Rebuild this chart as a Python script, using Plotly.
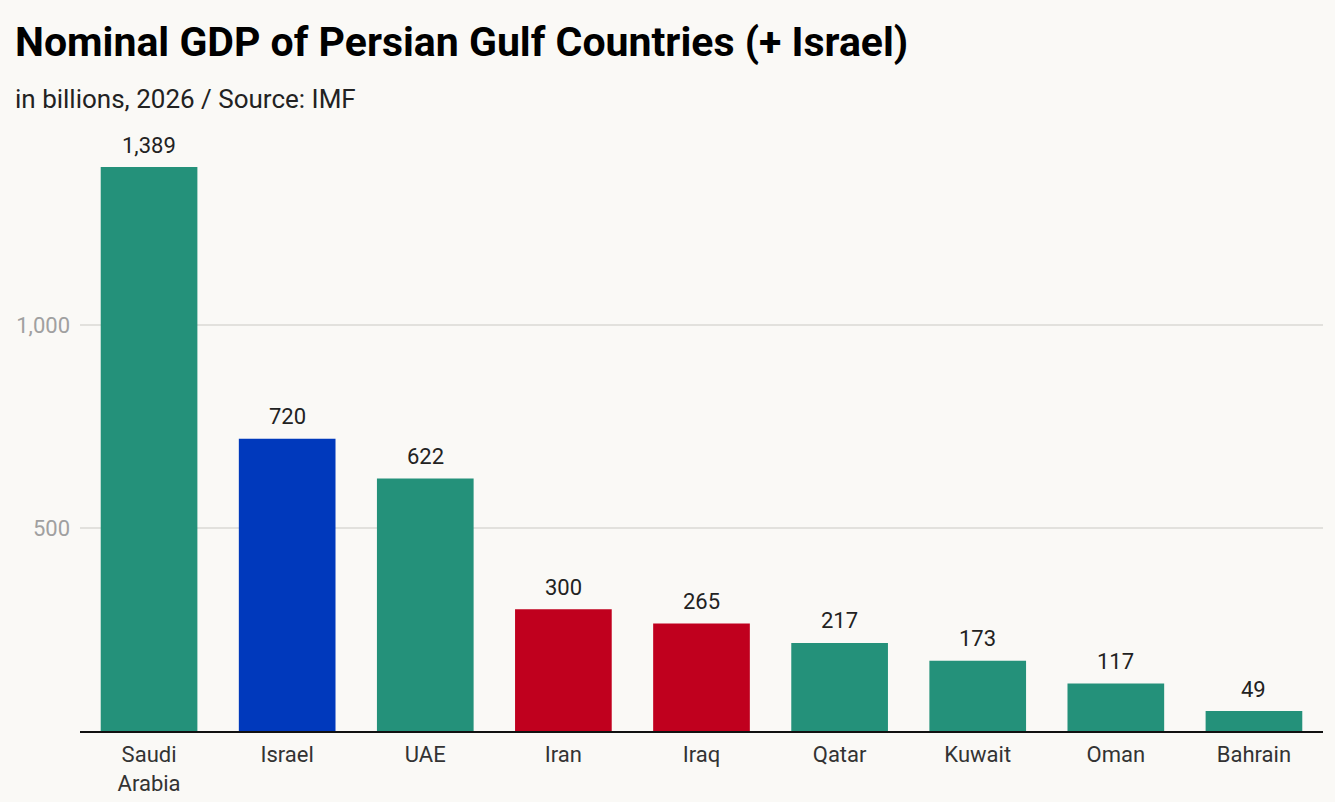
import plotly.graph_objects as go

# GDP 2026, billions USD (IMF)
countries = ["Saudi<br>Arabia", "Israel", "UAE", "Iran", "Iraq", "Qatar", "Kuwait", "Oman", "Bahrain"]
gdp = [1389, 720, 622, 300, 265, 217, 173, 117, 49]
groups = ["gulf", "israel", "gulf", "red", "red", "gulf", "gulf", "gulf", "gulf"]

ytick_vals = [500, 1000]
ytick_text = ["500", "1,000"]

palette = {"gulf": "#24917a", "israel": "#0039bc", "red": "#c0001e"}
bar_colors = [palette[g] for g in groups]
labels = [f"{v:,}" for v in gdp]

W, H = 1335, 802
bg = "#faf9f6"
off = 8  # page body margin pushes the figure 8px right/down

# plot area wanted on screen: x 80..1323, y 140..731
ml, mt = 80 - off, 140 - off
mr = W + off - 1323
mb = H + off - 731
plot_h = 731 - 140
plot_w = 1323 - 80

fig = go.Figure(go.Bar(
    x=countries,
    y=gdp,
    marker=dict(color=bar_colors, line=dict(width=0)),
    hoverinfo="x+y",
))

# value labels above bars
for c, v, t in zip(countries, gdp, labels):
    fig.add_annotation(
        x=c, y=v, text=t, showarrow=False,
        yanchor="middle", yshift=22,
        font=dict(family="Roboto", size=22, color="#222222"),
    )

fig.add_annotation(
    text="in billions, 2026 / Source: IMF",
    xref="paper", yref="paper",
    x=(13 - 80) / plot_w, xanchor="left",
    y=1 + (140 - 99) / plot_h, yanchor="middle",
    showarrow=False,
    font=dict(family="Roboto", size=26, color="#222222"),
)

fig.update_layout(
    width=W, height=H,
    paper_bgcolor=bg, plot_bgcolor=bg,
    margin=dict(l=ml, r=mr, t=mt, b=mb),
    bargap=0.3,
    showlegend=False,
    font=dict(family="Roboto", color="#333333"),
    title=dict(
        text="<b>Nominal GDP of Persian Gulf Countries (+ Israel)</b>",
        font=dict(family="Roboto", size=41, color="#000000"),
        xref="container", yref="container",
        x=(15 - off) / W, xanchor="left",
        y=1 - (42 - off) / H, yanchor="middle",
    ),
)

fig.update_xaxes(
    showline=True, linecolor="#111111", linewidth=1.5,
    showgrid=False, ticks="", ticklabelstandoff=3, automargin=False,
    tickfont=dict(family="Roboto", size=22, color="#333333"),
    fixedrange=True,
)
fig.update_yaxes(
    range=[0, plot_h / 0.406],
    tickvals=ytick_vals, ticktext=ytick_text,
    showgrid=True, gridcolor="#e2e1dd", gridwidth=1.5,
    zeroline=False, showline=False, ticks="", ticklabelstandoff=9,
    automargin=False,
    tickfont=dict(family="Roboto", size=22, color="#a0a0a0"),
    fixedrange=True,
)

fig.write_html("out.html", post_script=f"document.body.style.background='{bg}';")
